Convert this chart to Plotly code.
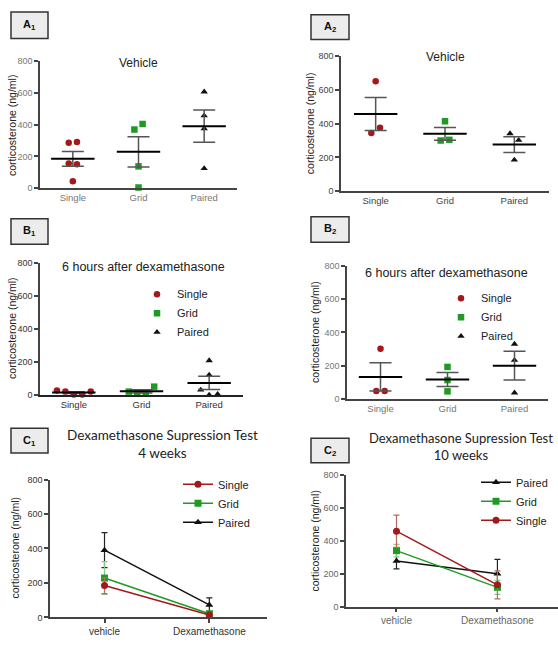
import numpy as np
import plotly.graph_objects as go

W, H = 558, 649

groups = ["Single", "Grid", "Paired"]
conditions = ["vehicle", "Dexamethasone"]
yticks = [0, 200, 400, 600, 800]

# Panel A1: vehicle, 4 weeks (individual animals, ng/ml)
a1_single = [286, 290, 155, 150, 43]
a1_grid = [369, 404, 137, 4]
a1_paired = [607, 456, 375, 124]
# Panel A2: vehicle, 10 weeks
a2_single = [652, 345, 375]
a2_grid = [414, 300, 304]
a2_paired = [341, 302, 185]
# Panel B1: 6 h after dexamethasone, 4 weeks
b1_single = [26, 20, 2, 2, 20]
b1_grid = [20, 8, 8, 50]
b1_paired = [208, 121, 30, 0, 4]
# Panel B2: 6 h after dexamethasone, 10 weeks
b2_single = [302, 47, 47]
b2_grid = [192, 113, 45]
b2_paired = [330, 233, 36]

colors = {"Single": "#a3191b", "Grid": "#1f9a22", "Paired": "#111111"}
err_colors = {"Single": "#b86a5a", "Grid": "#86cc86", "Paired": "#222222"}
symbols = {"Single": "circle", "Grid": "square", "Paired": "triangle-up"}
FONT = "Liberation Sans, Arial, sans-serif"
CFONT = "Lato, Open Sans, sans-serif"


def mean_sem(v):
    v = np.asarray(v, float)
    return float(v.mean()), float(v.std(ddof=1) / np.sqrt(len(v)))


def swarm(vals, thr=40.0, step=0.125):
    order = np.argsort(vals, kind="stable")
    clusters, cur = [], [order[0]]
    for a, b in zip(order[:-1], order[1:]):
        if vals[b] - vals[a] < thr:
            cur.append(b)
        else:
            clusters.append(cur)
            cur = [b]
    clusters.append(cur)
    offs = [0.0] * len(vals)
    for c in clusters:
        c = sorted(c)
        n = len(c)
        for i, idx in enumerate(c):
            offs[idx] = (i - (n - 1) / 2) * step
    return offs


def dom(p0, p1, size):
    return [p0 / size, p1 / size]


def ydom(top, bottom):
    return [1 - bottom / H, 1 - top / H]


panels = {
    "A1": dict(x=(40, 237), y=(57, 186), xr=[-0.5, 2.5], tc="#777777"),
    "A2": dict(x=(341, 549), y=(52, 189), xr=[-0.5, 2.5], tc="#444444"),
    "B1": dict(x=(40, 243), y=(262, 396), xr=[-0.5, 2.5], tc="#333333"),
    "B2": dict(x=(347, 548), y=(265, 400), xr=[-0.5, 2.5], tc="#777777"),
    "C1": dict(x=(50, 267), y=(482, 622), xr=[-0.52, 1.55], tc="#333333"),
    "C2": dict(x=(346, 558), y=(477, 611), xr=[-0.5, 1.6], tc="#666666"),
}
axis_ids = {"A1": "", "A2": "2", "B1": "3", "B2": "4", "C1": "5", "C2": "6"}

fig = go.Figure()
layout = dict(
    width=W, height=H, margin=dict(l=0, r=0, t=0, b=0),
    paper_bgcolor="white", plot_bgcolor="white",
    font=dict(family=FONT, color="#222222"),
    shapes=[], annotations=[],
)

for name, p in panels.items():
    i = axis_ids[name]
    is_c = name.startswith("C")
    layout["xaxis" + i] = dict(
        domain=dom(*p["x"], W), range=p["xr"], anchor="y" + i,
        tickvals=[0, 1] if is_c else [0, 1, 2],
        ticktext=conditions if is_c else groups,
        showline=True, linecolor="#222222" if name == "B1" else "#444444",
        linewidth=2 if name == "B1" else 1.5,
        ticks="outside" if is_c else "", ticklen=4, tickwidth=1.5, tickcolor="#444444",
        tickfont=dict(family=FONT, size=10 if is_c else 9.5, color=p["tc"]),
        showgrid=False, zeroline=False, fixedrange=True,
    )
    layout["yaxis" + i] = dict(
        domain=ydom(*p["y"]), range=[0, 800], anchor="x" + i,
        tickvals=yticks, showline=True, linecolor="#444444", linewidth=1.5,
        ticks="outside", ticklen=4, tickwidth=1.5, tickcolor="#444444",
        tickfont=dict(family=FONT, size=9, color=p["tc"]),
        showgrid=False, zeroline=False, fixedrange=True,
    )

scatter_data = {
    "A1": [a1_single, a1_grid, a1_paired],
    "A2": [a2_single, a2_grid, a2_paired],
    "B1": [b1_single, b1_grid, b1_paired],
    "B2": [b2_single, b2_grid, b2_paired],
}
legend_for = {"B1": "legend", "B2": "legend2"}

for name, series in scatter_data.items():
    i = axis_ids[name]
    means, sems = [], []
    for gi, (g, vals) in enumerate(zip(groups, series)):
        offs = swarm(vals)
        fig.add_trace(go.Scatter(
            x=[gi + o for o in offs], y=vals, mode="markers", name=g,
            marker=dict(symbol=symbols[g], color=colors[g], size=6.5),
            xaxis="x" + i, yaxis="y" + i, cliponaxis=False,
            showlegend=name in legend_for,
            legend=legend_for.get(name, "legend"),
        ))
        m, s = mean_sem(vals)
        means.append(m)
        sems.append(s)
    fig.add_trace(go.Scatter(
        x=[0, 1, 2], y=means, mode="markers", showlegend=False,
        marker=dict(symbol="line-ew", size=31, color="black",
                    line=dict(width=2, color="black")),
        error_y=dict(type="data", array=sems, width=11, thickness=1.5, color="#555555"),
        xaxis="x" + i, yaxis="y" + i, cliponaxis=False,
    ))

line_panels = {
    "C1": ([a1_single, a1_grid, a1_paired], [b1_single, b1_grid, b1_paired], "legend3"),
    "C2": ([a2_single, a2_grid, a2_paired], [b2_single, b2_grid, b2_paired], "legend4"),
}
for name, (veh, dex, leg) in line_panels.items():
    i = axis_ids[name]
    for gi in [2, 1, 0]:
        g = groups[gi]
        mv, sv = mean_sem(veh[gi])
        md, sd = mean_sem(dex[gi])
        fig.add_trace(go.Scatter(
            x=[0, 1], y=[mv, md], mode="lines+markers", name=g,
            line=dict(color=colors[g], width=1.5),
            marker=dict(symbol=symbols[g], color=colors[g], size=7),
            error_y=dict(type="data", array=[sv, sd], width=3, thickness=1.2,
                         color=err_colors[g]),
            xaxis="x" + i, yaxis="y" + i, cliponaxis=False, legend=leg,
        ))

leg_common = dict(bgcolor="rgba(0,0,0,0)", borderwidth=0,
                  font=dict(family=FONT, size=11, color="#222222"),
                  xanchor="left", yanchor="top", itemclick=False, itemdoubleclick=False)
layout["legend"] = dict(leg_common, x=137 / W, y=1 - 279 / H)
layout["legend2"] = dict(leg_common, x=441 / W, y=1 - 283 / H)
layout["legend3"] = dict(leg_common, x=178 / W, y=1 - 472 / H, traceorder="reversed")
layout["legend4"] = dict(leg_common, x=476 / W, y=1 - 470 / H)

# panel label boxes
boxes = {
    "A<sub>1</sub>": (11, 7, 48, 34),
    "A<sub>2</sub>": (311, 10, 349, 35),
    "B<sub>1</sub>": (11, 217, 48, 243),
    "B<sub>2</sub>": (311, 215, 349, 241),
    "C<sub>1</sub>": (11, 430, 48, 455),
    "C<sub>2</sub>": (311, 440, 349, 465),
}
for txt, (x0, y0, x1, y1) in boxes.items():
    layout["shapes"].append(dict(
        type="rect", xref="paper", yref="paper",
        x0=x0 / W, x1=x1 / W, y0=1 - y1 / H, y1=1 - y0 / H,
        fillcolor="#ececec", line=dict(color="#333333", width=1.5), layer="above",
    ))
    layout["annotations"].append(dict(
        text="<b>" + txt + "</b>", x=(x0 + x1) / 2 / W, y=1 - (y0 + y1) / 2 / H,
        xref="paper", yref="paper", showarrow=False, xanchor="center", yanchor="middle",
        font=dict(family=FONT, size=11, color="#111111"),
    ))

# titles
titles = [
    ("Vehicle", 138, 59, 12, FONT),
    ("Vehicle", 445, 53, 12, FONT),
    ("6 hours after dexamethasone", 143, 266, 12.5, FONT),
    ("6 hours after dexamethasone", 446, 272, 12.5, FONT),
    ("Dexamethasone Supression Test<br>4 weeks", 162, 446, 13.5, CFONT),
    ("Dexamethasone Supression Test<br>10 weeks", 461, 448, 13, CFONT),
]
for t, x, y, s, f in titles:
    layout["annotations"].append(dict(
        text=t, x=x / W, y=1 - y / H, xref="paper", yref="paper", showarrow=False,
        xanchor="center", yanchor="middle", font=dict(size=s, family=f, color="#222222"),
    ))

# y-axis titles
ylabels = [(12, 122), (310, 120), (12, 328), (315, 332), (15, 551), (315, 544)]
for x, y in ylabels:
    layout["annotations"].append(dict(
        text="corticosterone (ng/ml)", x=x / W, y=1 - y / H, xref="paper", yref="paper",
        showarrow=False, textangle=-90, xanchor="center", yanchor="middle",
        font=dict(family=FONT, size=10.5, color="#222222"),
    ))

fig.update_layout(**layout)
fig.write_html("out.html")
